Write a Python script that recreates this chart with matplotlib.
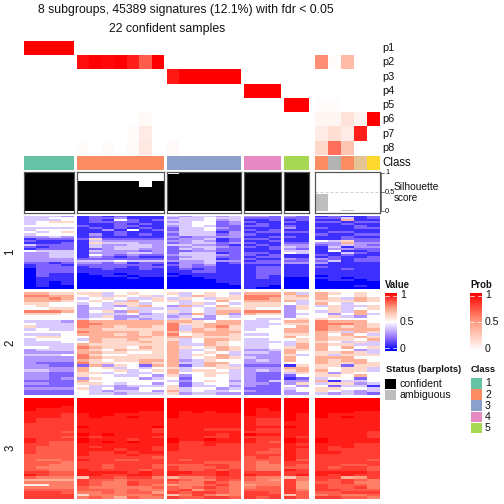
import numpy as np
import matplotlib
matplotlib.use("Agg")
import matplotlib.pyplot as plt
from matplotlib.colors import LinearSegmentedColormap
from matplotlib.patches import Rectangle

plt.rcParams['font.family'] = ['Liberation Sans', 'DejaVu Sans']

title_lines = ["8 subgroups, 45389 signatures (12.1%) with fdr < 0.05", "22 confident samples"]
prob_labels = ["p1", "p2", "p3", "p4", "p5", "p6", "p7", "p8"]
group_sizes = [4, 7, 6, 3, 2, 5]

p1 = [1,1,1,1, 0,0,0,0,0,0,0, 0,0,0,0,0,0, 0,0,0, 0,0, 0,0,0,0,0]
p2 = [0,0,0,0, .95,1,.97,1,.9,.7,1, 0,0,0,0,0,0, 0,0,0, 0,0, .55,.02,.35,0,0]
p3 = [0,0,0,0, 0,0,0,0,0,0,0, .92,1,1,1,1,1, 0,0,0, 0,0, 0,0,0,0,0]
p4 = [0,0,0,0, 0,0,0,0,0,0,0, 0,0,0,0,0,0, 1,1,1, 0,0, 0,0,0,0,0]
p5 = [0,0,0,0, 0,0,0,0,0,0,0, 0,0,0,0,0,0, 0,0,0, 1,1, .02,.02,0,0,0]
p6 = [0,0,0,0, 0,0,0,0,0,.03,0, 0,0,0,0,0,0, 0,0,0, 0,0, .05,.05,.15,.06,1]
p7 = [0,0,0,0, 0,0,0,0,.02,.1,0, 0,0,0,0,0,0, 0,0,0, 0,0, .1,.17,.1,.9,0]
p8 = [0,0,0,0, .02,0,.02,0,.03,.12,0, .03,0,0,0,0,0, 0,0,0, 0,0, .2,.65,.3,0,0]

class_colors = ["#66C2A5"]*4 + ["#FC8D62"]*7 + ["#8DA0CB"]*6 + ["#E78AC3"]*3 + ["#A6D854"]*2 + \
               ["#FC8D62", "#B3B3B3", "#FC8D62", "#E5C494", "#FFD92F"]
silhouette = [1,1,1,1, .79,.79,.79,.79,.77,.61,.79, .97,1,1,1,1,1, 1,1,1, 1,1, .45,0,.02,0,0]
status_confident = [1]*22 + [0]*5

# panels 1 and 2: one digit per cell, 0..a = 0.0..1.0
panel1 = [
 "4443 1212111 434434 332 32 12112", "4455 1223111 344544 222 22 22412",
 "4445 1215212 444534 112 12 11711", "4566 1222211 345523 211 21 22122",
 "4555 1112121 445523 121 11 11211", "5555 2112211 345422 221 21 11121",
 "4444 1212121 244532 111 31 21122", "4555 1131512 244522 212 11 11111",
 "5456 1112111 344413 122 22 12211", "4555 1312121 244423 211 11 21122",
 "3343 1211111 323333 112 21 11211", "1222 2622222 233412 221 11 11222",
 "2111 1433333 334312 112 11 54622", "1112 1644433 234423 211 22 33733",
 "4222 1433443 443321 121 33 23432", "2122 1434443 234432 212 43 14133",
 "1222 1234433 243422 112 32 13322", "5444 1433323 223322 111 44 15112",
 "3344 1333443 244412 221 54 11421", "3344 1532322 344432 212 11 21211",
 "3344 1321211 234422 122 11 12112", "3333 2222222 244412 211 32 32122",
 "3333 4445444 333433 122 22 24122", "2212 3323122 133412 222 33 31111",
 "1221 2222221 232311 111 11 11111", "1222 1222122 132211 122 11 21111",
 "0222 1121121 121211 122 11 11211", "0222 1111111 112211 122 11 11111",
 "0211 0110111 011111 122 11 11111", "0211 0011011 101111 121 11 01111",
 "0111 0000100 000111 121 00 11011", "0111 0000000 000011 111 00 01101",
 "0101 0000000 000011 111 00 00000", "0101 0000000 000001 111 00 00000",
 "0100 0000000 000000 110 00 00010", "0000 0000000 000000 100 00 00000",
]
panel2 = [
 "7766 6645655 645654 777 74 76565", "8877 5646564 547656 888 67 75565",
 "7787 4565446 465466 887 66 76476", "7776 5654756 645575 777 74 66676",
 "6655 4546645 546454 666 54 75455", "5655 3543675 374575 666 36 46446",
 "5566 3445444 445466 655 36 56456", "8887 3563745 645477 888 35 46475",
 "6665 3444534 437473 766 34 53574", "5555 3463344 345354 555 35 56435",
 "5555 4553434 463355 544 56 65555", "4443 8777777 776577 445 77 87775",
 "5444 8877777 866777 444 66 88876", "6444 8776776 846786 445 57 87676",
 "4544 7766666 847676 455 77 87777", "5555 8777767 767777 555 77 76476",
 "4445 7776767 856776 445 66 75754", "5665 5777776 776666 555 75 76676",
 "4555 4766766 645776 445 56 76657", "4445 5766676 745765 444 46 65464",
 "4444 7666666 744765 445 47 76644", "5544 8766576 765676 445 67 75756",
 "3444 7657666 744576 334 76 75534", "3333 7766556 745654 443 75 66764",
 "4445 8655666 746574 333 64 64666", "3333 8766666 745676 433 75 77755",
 "3333 7656677 734655 343 75 76775", "3222 8665576 744775 333 55 76676",
 "3322 2736527 724764 222 16 66266", "3333 7564545 645566 333 77 65664",
 "4433 7556456 746654 343 67 75664", "3322 6645445 755664 322 46 63655",
 "3322 6554453 635654 322 25 66575", "3323 3655534 525554 322 12 45525",
 "2222 7555555 435653 324 33 71445", "3322 6654553 524554 332 36 46634",
 "2222 5443444 624453 322 53 52441", "3333 6453355 645534 222 45 66554",
 "2222 5434453 745445 322 35 65434", "2222 5443444 634433 222 33 43432",
]
# panel 3 is read on a finer scale: 0..a = 0.50..1.00
panel3 = [
 "aaaa aaaaaaa aaaaaa aaa aa aaaaa", "aaaa aaaaaaa aaaaaa aaa aa aaaaa",
 "aaaa aaaaaaa aaaaaa aaa aa aaaaa", "aaa9 aaaaaaa aaaaaa aaa aa aaaaa",
 "a999 aaaaaaa aaaaaa a9a aa aaaaa", "9999 aaaaa99 a9a9aa a99 aa aaa99",
 "9998 9aa9999 a99999 a99 a9 a9999", "9998 9a99a99 a99999 999 a9 a9a99",
 "9888 9999999 999999 988 a9 99999", "9888 9999999 999999 988 99 99999",
 "8888 9999999 999999 988 99 99999", "8888 a99999a 999999 999 a9 99999",
 "8888 9999998 999888 988 99 99999", "8887 9999998 999999 888 99 99998",
 "8888 a9a9999 999989 a99 99 99998", "8887 9899998 999889 888 98 99998",
 "9888 a999899 a99a99 988 a9 a9999", "9877 a9a9a99 a88999 987 a9 a9999",
 "8877 9999999 988988 888 98 99988", "8777 9899998 988888 888 99 98988",
 "8777 9998998 988888 887 98 98888", "8777 9889899 888888 877 98 99888",
 "7777 9888988 888888 888 98 88888", "7777 8888887 888888 787 98 88888",
 "7667 9887788 878888 777 97 88887", "7776 8888888 888777 767 88 88888",
 "7766 8878887 777887 766 87 88778", "7666 8878887 877787 766 77 87887",
 "7766 9888878 877878 766 98 88887", "8877 9999898 998898 888 88 99998",
 "9877 9988998 988898 988 89 98988", "7666 3887886 466788 766 36 88458",
 "4444 8776777 876687 765 86 87876", "6666 8766877 766876 666 85 77866",
 "1166 8766876 566786 566 85 87776", "6666 7666667 767876 677 85 87786",
 "7777 7776766 785776 777 86 88777", "8887 6676775 878876 887 87 77888",
 "8888 2666667 368656 888 37 67667", "8888 6764766 877887 878 87 88776",
]

group_x = [(24, 74), (77, 164), (167, 241), (244, 281), (284, 309), (315, 380)]
W = H = 504
fig = plt.figure(figsize=(7, 7), dpi=72)
fig.patch.set_facecolor("white")

value_cmap = LinearSegmentedColormap.from_list(
    "value", [(0, "#0000FF"), (.25, "#9E7CFF"), (.5, "#FFFFFF"), (.75, "#FF9E81"), (1, "#FF0000")])
prob_cmap = LinearSegmentedColormap.from_list("prob", [(0, "#FFFFFF"), (.5, "#FF9E81"), (1, "#FF0000")])


def px_axes(x0, y0, x1, y1):
    ax = fig.add_axes([x0 / W, 1 - y1 / H, (x1 - x0) / W, (y1 - y0) / H])
    ax.set_xticks([])
    ax.set_yticks([])
    for s in ax.spines.values():
        s.set_visible(False)
    return ax


def text(x, y, s, **kw):
    kw.setdefault("va", "center")
    kw.setdefault("color", "#111111")
    fig.text(x / W, 1 - y / H, s, **kw)


def slices():
    i = 0
    for g, n in enumerate(group_sizes):
        yield g, i, i + n
        i += n


# titles
text(186, 10, title_lines[0], ha="center", fontsize=12.3)
text(167, 29, title_lines[1], ha="center", fontsize=12.3)

# probability rows
prob = np.array([p1, p2, p3, p4, p5, p6, p7, p8], float)
for g, a, b in slices():
    x0, x1 = group_x[g]
    ax = px_axes(x0, 41, x1, 155)
    ax.imshow(prob[:, a:b], cmap=prob_cmap, vmin=0, vmax=1, aspect="auto", interpolation="nearest")
    # class bar
    ax = px_axes(x0, 156, x1, 170)
    for k, c in enumerate(class_colors[a:b]):
        ax.bar(k, 1, width=1, color=c)
    ax.set_xlim(-.5, b - a - .5)
    ax.set_ylim(0, 1)
    # silhouette
    ax = px_axes(x0, 171.5, x1, 212.5)
    cols = ["black" if s else "#BEBEBE" for s in status_confident[a:b]]
    ax.bar(np.arange(b - a), silhouette[a:b], width=1, color=cols)
    ax.set_xlim(-.5, b - a - .5)
    ax.set_ylim(-.05, 1.03)
    if g == 5:
        ax.axhline(.5, color="#D0D0D0", lw=1, ls=(0, (3, 2)), zorder=0)
    for s in ax.spines.values():
        s.set_visible(True)
        s.set_color("#555555")
        s.set_linewidth(1.2)

for i, lab in enumerate(prob_labels):
    text(382, 41 + 14.25 * (i + .5), lab, fontsize=11)
text(382, 163, "Class", fontsize=11.5)

# silhouette axis
axis_y = {1: 173, .5: 192, 0: 211}
fig.add_artist(plt.Line2D([380.5 / W] * 2, [1 - 173 / H, 1 - 211 / H], color="#444444", lw=.7))
for v, y in axis_y.items():
    fig.add_artist(plt.Line2D([380.5 / W, 384 / W], [1 - y / H] * 2, color="#444444", lw=.7))
    text(385, y, str(v), fontsize=7.5)
text(394, 186.5, "Silhouette", fontsize=10.3)
text(394, 198, "score", fontsize=10)

# value panels
panels = [(panel1, 216, 289, "1", 252, 0, .1), (panel2, 292, 395, "2", 343, 0, .1),
          (panel3, 398, 499, "3", 448, .5, .05)]
for rows, y0, y1, lab, ylab, base, step in panels:
    m = np.array([[base + int(ch, 11) * step for ch in r.replace(" ", "")] for r in rows])
    for g, a, b in slices():
        x0, x1 = group_x[g]
        ax = px_axes(x0, y0, x1, y1)
        ax.imshow(m[:, a:b], cmap=value_cmap, vmin=0, vmax=1, aspect="auto", interpolation="nearest")
    text(10.5, ylab, lab, rotation=90, ha="center", fontsize=11.5)


# legends
def colorbar(x, cmap, title):
    text(x, 285, title, fontsize=9.5, fontweight="bold")
    ax = px_axes(x, 293, x + 12, 351)
    ax.imshow(np.linspace(1, 0, 100)[:, None], cmap=cmap, vmin=0, vmax=1, aspect="auto")
    for y, s in [(.04, "1"), (.5, "0.5"), (.96, "0")]:
        ax.plot([-.5, -.2], [y * 99, y * 99], color="white", lw=.7)
        ax.plot([.2, .5], [y * 99, y * 99], color="white", lw=.7)
        text(x + 15, 293 + 58 * y, s, fontsize=10.5)
    ax.set_xlim(-.5, .5)
    ax.set_ylim(99.5, -.5)


colorbar(385, value_cmap, "Value")
colorbar(470, prob_cmap, "Prob")

text(385.5, 369, "Status (barplots)", fontsize=9.4, fontweight="bold")
for y, c, s in [(378.5, "black", "confident"), (389.5, "#BEBEBE", "ambiguous")]:
    fig.add_artist(Rectangle((385 / W, 1 - (y + 10.5) / H), 11 / W, 10.5 / H, color=c, lw=0))
    text(400, y + 5.3, s, fontsize=10.5)

legend_classes = ["1", "2", "3", "4", "5"]
legend_colors = ["#66C2A5", "#FC8D62", "#8DA0CB", "#E78AC3", "#A6D854"]
text(470.5, 369, "Class", fontsize=9.4, fontweight="bold")
for i, (s, c) in enumerate(zip(legend_classes, legend_colors)):
    y = 378 + 11.2 * i
    fig.add_artist(Rectangle((471 / W, 1 - (y + 10.5) / H), 11 / W, 10.5 / H, color=c, lw=0))
    text(485, y + 5.3, s, fontsize=10.5)

fig.savefig("out.png", dpi=72)
